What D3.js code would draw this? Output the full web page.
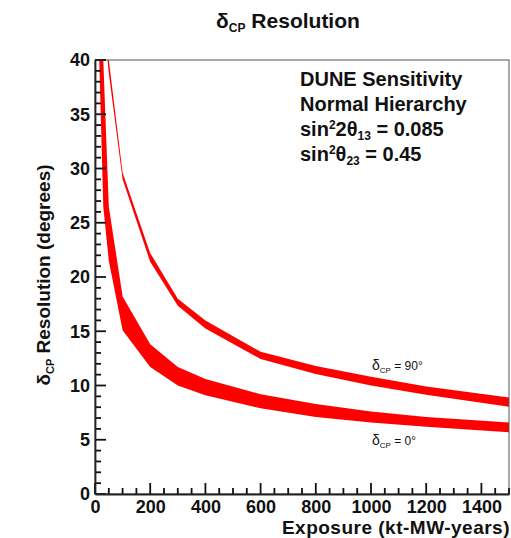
<!DOCTYPE html>
<html>
<head>
<meta charset="utf-8">
<script src="https://cdn.jsdelivr.net/npm/d3@7"></script>
<style>
  body { margin: 0; background: #fff; }
  text { font-family: "Liberation Sans", Arial, Helvetica, sans-serif; fill: #111; }
</style>
</head>
<body>
<div id="chart"></div>
<script>
// delta_CP = 0 band (exposure in kt-MW-years, resolution in degrees)
var exposure0 = [10, 30, 50, 100, 200, 300, 400, 600, 800, 1000, 1200, 1500];
var res0Low = [45, 26.5, 21.5, 15.1, 11.7, 10.0, 9.1, 7.9, 7.1, 6.6, 6.2, 5.7];
var res0High = [60, 40, 26.5, 18.2, 13.8, 11.7, 10.6, 9.2, 8.3, 7.6, 7.1, 6.6];

// delta_CP = 90 band
var exposure90 = [25, 50, 100, 200, 300, 400, 600, 800, 1000, 1200, 1500];
var res90Low = [45, 38.8, 29.0, 21.4, 17.35, 15.25, 12.45, 11.05, 10.0, 9.15, 8.05];
var res90High = [46, 40.0, 29.6, 22.2, 18.0, 16.0, 13.1, 11.8, 10.8, 9.9, 8.9];

var xTicks = [0, 200, 400, 600, 800, 1000, 1200, 1400];
var yTicks = [0, 5, 10, 15, 20, 25, 30, 35, 40];
var xMinorTicks = d3.range(0, 1501, 50);
var yMinorTicks = d3.range(0, 41, 1);

var margin = {top: 60, right: 2, bottom: 44, left: 95},
  width = 511 - margin.left - margin.right,
  height = 538 - margin.top - margin.bottom;

var x = d3.scaleLinear().domain([0, 1500]).range([0, width]);
var y = d3.scaleLinear().domain([0, 40]).range([height, 0]);

var svg = d3.select("#chart").append("svg")
  .attr("width", 511)
  .attr("height", 538);

var g = svg.append("g")
  .attr("transform", "translate(" + margin.left + "," + margin.top + ")");

g.append("clipPath").attr("id", "plotclip")
  .append("rect").attr("width", width).attr("height", height);

function bandData(xs, lo, hi) {
  return xs.map(function(d, i) { return {x: d, lo: lo[i], hi: hi[i]}; });
}

var band = d3.area()
  .x(function(d) { return x(d.x); })
  .y0(function(d) { return y(d.lo); })
  .y1(function(d) { return y(d.hi); });

// the two bands
g.append("path")
  .datum(bandData(exposure0, res0Low, res0High))
  .attr("clip-path", "url(#plotclip)")
  .attr("fill", "#ff0000")
  .attr("d", band);

g.append("path")
  .datum(bandData(exposure90, res90Low, res90High))
  .attr("clip-path", "url(#plotclip)")
  .attr("fill", "#ff0000")
  .attr("d", band);

// frame
g.append("rect")
  .attr("width", width)
  .attr("height", height)
  .attr("fill", "none")
  .attr("stroke", "#555")
  .attr("stroke-width", 1);

// tick marks pointing inside (ROOT style)
g.selectAll(".ytick")
  .data(yMinorTicks)
  .join("line")
  .attr("class", "ytick")
  .attr("x1", 0)
  .attr("x2", function(d) { return d % 5 === 0 ? 11 : 6; })
  .attr("y1", function(d) { return y(d); })
  .attr("y2", function(d) { return y(d); })
  .attr("stroke", "#111")
  .attr("stroke-width", 1.8);

g.selectAll(".xtick")
  .data(xMinorTicks)
  .join("line")
  .attr("class", "xtick")
  .attr("x1", function(d) { return x(d); })
  .attr("x2", function(d) { return x(d); })
  .attr("y1", height)
  .attr("y2", function(d) { return d % 200 === 0 ? height - 11 : height - 6; })
  .attr("stroke", "#111")
  .attr("stroke-width", 1.8);

// axis labels
var yAxis = g.append("g")
  .call(d3.axisLeft(y).tickValues(yTicks).tickSize(0).tickPadding(5));
yAxis.select(".domain").attr("stroke", "#222").attr("stroke-width", 1.8);
yAxis.selectAll("text")
  .style("font-size", "18px").style("font-weight", "bold")
  .attr("fill", "#111");

var xAxis = g.append("g")
  .attr("transform", "translate(0," + height + ")")
  .call(d3.axisBottom(x).tickValues(xTicks).tickSize(0).tickPadding(6).tickFormat(d3.format("d")));
xAxis.select(".domain").attr("stroke", "#222").attr("stroke-width", 1.8);
xAxis.selectAll("text")
  .style("font-size", "18px").style("font-weight", "bold")
  .attr("fill", "#111");

// titles
var title = svg.append("text")
  .attr("x", 288).attr("y", 28)
  .attr("text-anchor", "middle")
  .style("font-size", "21px").style("font-weight", "bold");
title.append("tspan").text("δ");
title.append("tspan").attr("dy", 4).style("font-size", "12px").text("CP");
title.append("tspan").attr("dy", -4).text(" Resolution");

svg.append("text")
  .attr("x", 510).attr("y", 534)
  .attr("text-anchor", "end")
  .style("font-size", "19px").style("font-weight", "bold")
  .style("letter-spacing", "0.5px")
  .text("Exposure (kt-MW-years)");

var ytitle = svg.append("text")
  .attr("transform", "translate(50,275) rotate(-90)")
  .attr("text-anchor", "middle")
  .style("font-size", "19px").style("font-weight", "bold");
ytitle.append("tspan").text("δ");
ytitle.append("tspan").attr("dy", 4).style("font-size", "11px").text("CP");
ytitle.append("tspan").attr("dy", -4).text(" Resolution (degrees)");

// info box
var info = svg.append("g")
  .style("font-size", "20px").style("font-weight", "bold");
info.append("text").attr("x", 300).attr("y", 86).text("DUNE Sensitivity");
info.append("text").attr("x", 300).attr("y", 111).text("Normal Hierarchy");
var l3 = info.append("text").attr("x", 300).attr("y", 136);
l3.append("tspan").text("sin");
l3.append("tspan").attr("dy", -7).style("font-size", "12px").text("2");
l3.append("tspan").attr("dy", 7).text("2θ");
l3.append("tspan").attr("dy", 4).style("font-size", "12px").text("13");
l3.append("tspan").attr("dy", -4).text(" = 0.085");
var l4 = info.append("text").attr("x", 300).attr("y", 161);
l4.append("tspan").text("sin");
l4.append("tspan").attr("dy", -7).style("font-size", "12px").text("2");
l4.append("tspan").attr("dy", 7).text("θ");
l4.append("tspan").attr("dy", 4).style("font-size", "12px").text("23");
l4.append("tspan").attr("dy", -4).text(" = 0.45");

// curve labels
function curveLabel(xp, yp, val) {
  var t = svg.append("text").attr("x", xp).attr("y", yp)
    .style("font-size", "12px").attr("fill", "#444");
  t.append("tspan").style("font-size", "14px").text("δ");
  t.append("tspan").attr("dy", 3).style("font-size", "8px").text("CP");
  t.append("tspan").attr("dy", -3).text(" = " + val + "°");
}
curveLabel(372, 370, 90);
curveLabel(372, 445, 0);
</script>
</body>
</html>
